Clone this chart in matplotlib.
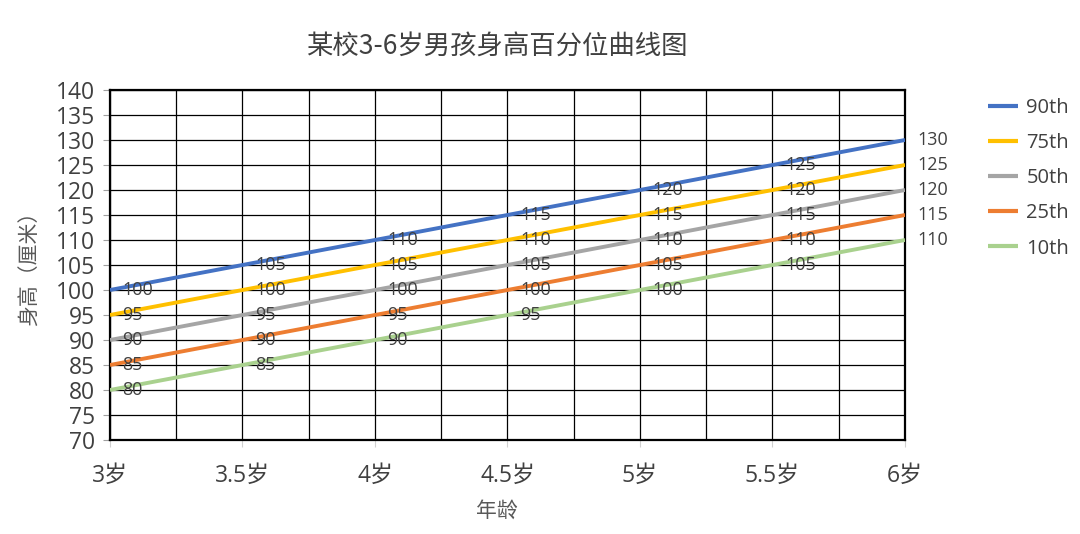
import matplotlib
matplotlib.use("Agg")
import matplotlib.pyplot as plt
import numpy as np

ages = [3, 3.5, 4, 4.5, 5, 5.5, 6]
age_labels = ["3岁", "3.5岁", "4岁", "4.5岁", "5岁", "5.5岁", "6岁"]
p90 = [100, 105, 110, 115, 120, 125, 130]
p75 = [95, 100, 105, 110, 115, 120, 125]
p50 = [90, 95, 100, 105, 110, 115, 120]
p25 = [85, 90, 95, 100, 105, 110, 115]
p10 = [80, 85, 90, 95, 100, 105, 110]
series_names = ["90th", "75th", "50th", "25th", "10th"]
colors = ["#4472C4", "#FFC000", "#A5A5A5", "#ED7D31", "#A9D18E"]

plt.rcParams['font.family'] = ['Open Sans', 'Noto Sans CJK SC', 'DejaVu Sans']
txt = "#404040"

fig = plt.figure(figsize=(10.8, 5.34), dpi=100)
ax = fig.add_axes([110/1080, 1-440/534, (905-110)/1080, (440-90)/534])

for vals, name, c in zip([p90, p75, p50, p25, p10], series_names, colors):
    ax.plot(ages, vals, color=c, lw=2.8, label=name, solid_capstyle='butt', zorder=3)
    for x, y in zip(ages, vals):
        ax.annotate(str(y), (x, y), xytext=(9, 0), textcoords='offset points',
                    ha='left', va='center', fontsize=13, color=txt, zorder=4,
                    annotation_clip=False)

ax.set_xlim(3, 6)
ax.set_ylim(70, 140)
ax.set_yticks(np.arange(70, 141, 5))
ax.set_xticks(ages)
ax.set_xticklabels(age_labels)
ax.set_xticks(np.arange(3, 6.01, 0.25), minor=True)
ax.grid(True, which='both', color='black', lw=0.9, zorder=1)
ax.tick_params(axis='y', labelsize=16.5, colors='#a0a0a0', labelcolor=txt, length=5, width=0.8, pad=6)
ax.tick_params(axis='x', which='major', labelsize=16.5, colors='#d0d0d0', labelcolor=txt, length=5, pad=12)
ax.tick_params(axis='x', which='minor', length=0)
for s in ax.spines.values():
    s.set_color('black')
    s.set_linewidth(1.6)

fig.text(497/1080, 1-47/534, "某校3-6岁男孩身高百分位曲线图", ha='center', va='center',
         fontsize=19, fontweight='medium', color='#404040',
         family=['Noto Sans CJK SC', 'DejaVu Sans'])
fig.text(30/1080, 1-263/534, "身高（厘米）", rotation=90, ha='center', va='center',
         fontsize=15, color='#595959', family=['Noto Sans CJK SC', 'DejaVu Sans'])
fig.text(497/1080, 1-511/534, "年龄", ha='center', va='center',
         fontsize=15, color='#595959', family=['Noto Sans CJK SC', 'DejaVu Sans'])

leg = ax.legend(loc='upper left', bbox_to_anchor=(970/1080, 1-80/534), bbox_transform=fig.transFigure,
                frameon=False, fontsize=14.5, handlelength=1.5, labelspacing=0.75,
                handletextpad=0.4, labelcolor=txt)
for h in leg.get_lines():
    h.set_linewidth(3)

fig.savefig("out.png", dpi=100)
